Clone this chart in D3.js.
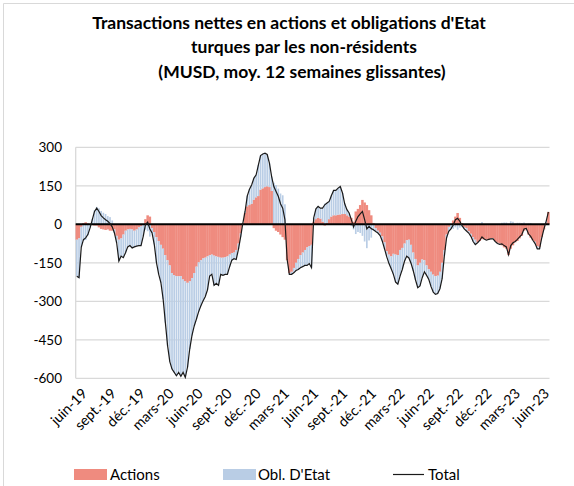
<!DOCTYPE html>
<html><head><meta charset="utf-8">
<script src="https://cdn.jsdelivr.net/npm/d3@7"></script>
<style>body{margin:0;background:#fff} svg{display:block} text{font-family:Lato,'Noto Sans',sans-serif;fill:#000}</style>
</head><body><svg id="c" width="574" height="486"></svg>
<script>
// Weekly observations (12-week moving average), first week ending 2019-05-17
const firstWeek = "2019-05-17";
const actions = [
-60,-55,-10,5,8,3,0,-3,-5,-5,-12,-18,-20,-22,-20,-25,-25,-20,-45,-60,
-55,-40,-25,-20,-18,-20,-25,-20,-12,-8,0,20,35,30,-15,-30,-50,-65,-80,-95,
-120,-140,-160,-190,-198,-202,-202,-202,-215,-222,-228,-222,-210,-190,-165,-148,-140,-133,-130,-125,
-120,-118,-122,-125,-127,-130,-130,-128,-125,-118,-112,-110,-100,-75,-35,5,45,70,75,80,
96,105,110,135,140,145,148,145,130,-15,-25,-30,-40,-50,-60,-140,-190,-185,-170,-150,
-135,-120,-110,-100,-90,-85,-80,10,20,25,22,10,-5,5,20,30,35,35,37,38,
40,40,35,30,25,10,50,60,75,95,85,75,55,35,5,-15,-25,-33,-47,-70,
-105,-118,-125,-115,-118,-120,-100,-92,-75,-62,-60,-80,-110,-135,-160,-150,-137,-140,-160,-175,
-185,-196,-202,-200,-185,-150,-100,-40,-10,0,15,30,44,25,5,-10,-15,-27,-37,-50,
-60,-70,-65,-58,-58,-60,-60,-55,-55,-65,-72,-75,-82,-90,-95,-120,-95,-82,-70,-65,
-55,-45,-25,-18,-40,-52,-62,-68,-85,-88,-50,-20,5,48
];
const obligations = [
-142,-153,-80,-65,-61,-43,-14,21,55,68,62,52,45,40,32,28,15,-14,-27,-83,
-69,-90,-86,-68,-65,-72,-63,-65,-71,-75,-47,-21,-27,-48,-19,-49,-100,-130,-148,-197,
-263,-333,-375,-374,-379,-388,-375,-390,-362,-374,-329,-264,-224,-207,-205,-193,-178,-166,-152,-131,
-82,-77,-116,-105,-111,-65,-69,-67,-70,-48,-28,-24,-37,-23,-14,0,5,41,62,74,
84,88,121,133,134,132,124,93,56,162,153,139,120,113,78,3,-5,-10,-19,-30,
-41,-49,-55,-60,-70,-68,-89,15,40,45,41,53,81,78,69,82,97,97,104,109,
82,40,22,14,-7,-20,-38,-30,-34,-45,-67,-93,-63,-52,-26,-13,-9,-11,-19,-26,
-22,-35,-48,-80,-107,-113,-102,-84,-69,-62,-71,-73,-72,-82,-87,-90,-71,-45,-39,-40,
-58,-68,-71,-70,-66,-62,-24,-13,-17,-18,-18,-12,-21,-13,-10,-8,-11,-7,-10,-17,
-19,-2,2,9,1,-2,1,-2,-2,-2,-3,-3,6,7,7,2,12,10,3,6,
6,5,7,2,3,5,0,-7,-11,-8,-3,2,7,0
];
const seriesNames = ["Actions", "Obl. D'Etat", "Total"];
const yTicks = [300, 150, 0, -150, -300, -450, -600];
const xTickLabels = ["juin-19","sept.-19","déc.-19","mars-20","juin-20","sept.-20","déc.-20","mars-21",
  "juin-21","sept.-21","déc.-21","mars-22","juin-22","sept.-22","déc.-22","mars-23","juin-23"];
const xTickDates = ["2019-06-01","2019-09-01","2019-12-01","2020-03-01","2020-06-01","2020-09-01","2020-12-01","2021-03-01",
  "2021-06-01","2021-09-01","2021-12-01","2022-03-01","2022-06-01","2022-09-01","2022-12-01","2023-03-01","2023-06-01"];
const titleLines = ["Transactions nettes en actions et obligations d'Etat", "turques par les non-résidents", "(MUSD, moy. 12 semaines glissantes)"];

const colA = "#EF8B7F", colO = "#B9CDE5";
const DAY = 864e5;
const t0 = new Date(firstWeek + "T00:00:00Z").getTime();
const data = actions.map((a, i) => ({date: new Date(t0 + i * 7 * DAY), a: a, o: obligations[i]}));
data.forEach(d => d.total = d.a + d.o);

const svg = d3.select("#c");
const L = 75.7, R = 549.5, T = 147.3, B = 378.3;
const x = d3.scaleUtc()
  .domain([new Date(t0 - 3.5 * DAY), new Date(data[data.length - 1].date.getTime() + 3.5 * DAY)])
  .range([L, R]);
const y = d3.scaleLinear().domain([-600, 300]).range([B, T]);
const step = x(new Date(t0 + 7 * DAY)) - x(new Date(t0));

// chart border (left / top)
svg.append("path").attr("d", "M3.5,486 V3.5 H574").attr("fill", "none").attr("stroke", "#D9D9D9").attr("stroke-width", 1);

// gridlines
svg.append("g").selectAll("line").data(yTicks.filter(v => v !== 0)).join("line")
  .attr("x1", L).attr("x2", R).attr("y1", d => y(d)).attr("y2", d => y(d))
  .attr("stroke", "#D9D9D9").attr("stroke-width", 1.3);
svg.append("line").attr("x1", L).attr("x2", L).attr("y1", T).attr("y2", B)
  .attr("stroke", "#D9D9D9").attr("stroke-width", 1.3);

// y labels
svg.append("g").selectAll("text").data(yTicks).join("text")
  .attr("x", 62).attr("y", d => y(d)).attr("dy", "0.35em").attr("text-anchor", "end")
  .style("font-size", "13.5px").text(d => d);

// stacked bars
const stack = d3.stack().keys(["a", "o"]).offset(d3.stackOffsetDiverging);
const layers = stack(data);
const gb = svg.append("g");
gb.append("g").selectAll("rect").data(layers[0]).join("rect")
  .attr("x", d => x(d.data.date) - step / 2 - 0.15).attr("width", step + 0.3)
  .attr("y", d => y(Math.max(d[0], d[1]))).attr("height", d => Math.abs(y(d[0]) - y(d[1])))
  .attr("fill", colA);
gb.append("g").selectAll("rect").data(layers[1]).join("rect")
  .attr("x", d => x(d.data.date) - step * 0.38).attr("width", step * 0.76)
  .attr("y", d => y(Math.max(d[0], d[1]))).attr("height", d => Math.abs(y(d[0]) - y(d[1])))
  .attr("fill", colO);

// zero line
svg.append("line").attr("x1", L).attr("x2", R).attr("y1", y(0)).attr("y2", y(0))
  .attr("stroke", "#000").attr("stroke-width", 2);

// total line
svg.append("path").datum(data)
  .attr("d", d3.line().x(d => x(d.date)).y(d => y(d.total)))
  .attr("fill", "none").attr("stroke", "#1a1a1a").attr("stroke-width", 1.2);

// x labels
svg.append("g").selectAll("text").data(xTickLabels).join("text")
  .attr("transform", (d, i) => `translate(${x(new Date(xTickDates[i] + "T00:00:00Z")) + 3},${391}) rotate(-45)`)
  .attr("text-anchor", "end").attr("dy", "0.35em")
  .style("font-size", "14.2px").text(d => d);

// title
const tc = [289, 304, 302];
svg.append("g").selectAll("text").data(titleLines).join("text")
  .attr("x", (d, i) => tc[i]).attr("y", (d, i) => 28.5 + i * 24.5).attr("text-anchor", "middle")
  .style("font-size", "17.5px").style("font-weight", "bold").text(d => d);

// legend
const lg = svg.append("g");
lg.append("rect").attr("x", 74).attr("y", 469).attr("width", 33).attr("height", 11).attr("fill", colA);
lg.append("text").attr("x", 110).attr("y", 479.5).style("font-size", "15px").text(seriesNames[0]);
lg.append("rect").attr("x", 223).attr("y", 469).attr("width", 33).attr("height", 11).attr("fill", colO);
lg.append("text").attr("x", 258).attr("y", 479.5).style("font-size", "15px").text(seriesNames[1]);
lg.append("line").attr("x1", 393).attr("x2", 424).attr("y1", 474.5).attr("y2", 474.5).attr("stroke", "#1a1a1a").attr("stroke-width", 1.2);
lg.append("text").attr("x", 428).attr("y", 479.5).style("font-size", "15px").text(seriesNames[2]);
</script></body></html>
